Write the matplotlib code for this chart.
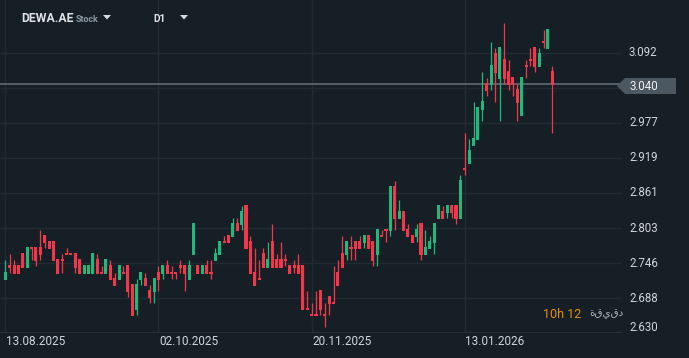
import matplotlib
matplotlib.use("Agg")
import matplotlib.pyplot as plt
from matplotlib.patches import Polygon

# daily candles, DEWA.AE
opens = [2.72, 2.74, 2.74, 2.74, 2.76, 2.74, 2.77, 2.77, 2.77, 2.79,
         2.78, 2.78, 2.75, 2.75, 2.76, 2.76, 2.76, 2.75, 2.73, 2.73,
         2.73, 2.75, 2.73, 2.73, 2.74, 2.72, 2.72, 2.73, 2.74, 2.71,
         2.67, 2.72, 2.72, 2.70, 2.70, 2.73, 2.73, 2.74, 2.73, 2.73,
         2.74, 2.74, 2.72, 2.76, 2.74, 2.73, 2.74, 2.73, 2.75, 2.76,
         2.78, 2.79, 2.79, 2.81, 2.81, 2.84, 2.78, 2.73, 2.72, 2.76,
         2.74, 2.78, 2.75, 2.75, 2.75, 2.74, 2.74, 2.74, 2.74, 2.67,
         2.66, 2.66, 2.70, 2.66, 2.69, 2.68, 2.73, 2.76, 2.76, 2.77,
         2.78, 2.78, 2.78, 2.79, 2.78, 2.76, 2.79, 2.80, 2.80, 2.87,
         2.82, 2.83, 2.80, 2.79, 2.79, 2.81, 2.76, 2.77, 2.78, 2.82,
         2.83, 2.83, 2.84, 2.84, 2.82, 2.90, 2.91, 2.94, 2.95, 3.00,
         3.04, 3.04, 3.09, 3.05, 3.08, 3.06, 3.05, 3.03, 2.99, 3.07,
         3.08, 3.10, 3.07, 3.11, 3.10, 3.06]
highs = [2.75, 2.76, 2.75, 2.74, 2.76, 2.77, 2.77, 2.77, 2.80, 2.79,
         2.78, 2.78, 2.75, 2.76, 2.77, 2.76, 2.76, 2.75, 2.74, 2.74,
         2.76, 2.76, 2.74, 2.75, 2.75, 2.73, 2.74, 2.74, 2.74, 2.71,
         2.72, 2.73, 2.73, 2.71, 2.72, 2.74, 2.74, 2.75, 2.74, 2.73,
         2.75, 2.74, 2.75, 2.81, 2.74, 2.74, 2.75, 2.75, 2.77, 2.78,
         2.79, 2.79, 2.82, 2.82, 2.84, 2.84, 2.79, 2.77, 2.75, 2.77,
         2.78, 2.81, 2.76, 2.78, 2.76, 2.74, 2.75, 2.76, 2.74, 2.70,
         2.68, 2.70, 2.70, 2.68, 2.69, 2.74, 2.75, 2.79, 2.78, 2.79,
         2.78, 2.79, 2.79, 2.79, 2.78, 2.80, 2.80, 2.80, 2.87, 2.88,
         2.85, 2.83, 2.81, 2.79, 2.81, 2.81, 2.80, 2.79, 2.81, 2.84,
         2.84, 2.84, 2.84, 2.84, 2.89, 2.96, 2.95, 3.01, 3.00, 3.06,
         3.05, 3.11, 3.10, 3.10, 3.14, 3.08, 3.05, 3.04, 3.05, 3.08,
         3.10, 3.10, 3.10, 3.13, 3.13, 3.07]
lows = [2.72, 2.73, 2.73, 2.73, 2.74, 2.74, 2.75, 2.74, 2.75, 2.77,
        2.77, 2.75, 2.73, 2.73, 2.76, 2.76, 2.73, 2.73, 2.73, 2.73,
        2.73, 2.73, 2.73, 2.73, 2.72, 2.71, 2.72, 2.73, 2.69, 2.66,
        2.66, 2.71, 2.71, 2.68, 2.68, 2.70, 2.72, 2.73, 2.72, 2.72,
        2.73, 2.70, 2.72, 2.76, 2.73, 2.73, 2.73, 2.72, 2.75, 2.76,
        2.78, 2.78, 2.79, 2.80, 2.80, 2.77, 2.73, 2.71, 2.72, 2.74,
        2.74, 2.74, 2.74, 2.74, 2.74, 2.73, 2.73, 2.73, 2.67, 2.67,
        2.66, 2.66, 2.66, 2.64, 2.66, 2.68, 2.71, 2.74, 2.75, 2.75,
        2.75, 2.77, 2.77, 2.77, 2.74, 2.74, 2.79, 2.78, 2.79, 2.80,
        2.82, 2.80, 2.79, 2.78, 2.78, 2.75, 2.76, 2.77, 2.76, 2.82,
        2.82, 2.82, 2.82, 2.81, 2.82, 2.89, 2.91, 2.94, 2.95, 2.98,
        3.02, 3.03, 3.01, 2.98, 3.04, 3.03, 3.02, 2.98, 2.99, 3.05,
        3.07, 3.06, 3.07, 3.10, 3.10, 2.96]
closes = [2.73, 2.74, 2.73, 2.73, 2.74, 2.77, 2.77, 2.75, 2.76, 2.78,
          2.77, 2.75, 2.73, 2.75, 2.76, 2.76, 2.74, 2.73, 2.74, 2.74,
          2.76, 2.73, 2.73, 2.75, 2.72, 2.71, 2.74, 2.73, 2.70, 2.66,
          2.71, 2.73, 2.71, 2.69, 2.72, 2.72, 2.74, 2.73, 2.73, 2.73,
          2.74, 2.73, 2.74, 2.81, 2.73, 2.74, 2.73, 2.73, 2.76, 2.78,
          2.78, 2.78, 2.81, 2.80, 2.83, 2.77, 2.73, 2.71, 2.72, 2.74,
          2.75, 2.74, 2.74, 2.74, 2.75, 2.73, 2.74, 2.73, 2.67, 2.67,
          2.66, 2.66, 2.67, 2.66, 2.68, 2.68, 2.71, 2.74, 2.78, 2.77,
          2.77, 2.77, 2.79, 2.77, 2.75, 2.80, 2.79, 2.80, 2.87, 2.82,
          2.83, 2.80, 2.79, 2.78, 2.80, 2.76, 2.77, 2.78, 2.81, 2.84,
          2.82, 2.84, 2.83, 2.82, 2.88, 2.90, 2.93, 2.95, 3.00, 3.01,
          3.03, 3.07, 3.06, 3.10, 3.05, 3.04, 3.04, 3.01, 3.05, 3.07,
          3.08, 3.07, 3.09, 3.11, 3.13, 3.04]

date_labels = ["13.08.2025", "02.10.2025", "20.11.2025", "13.01.2026"]
date_index = [0, 35, 70, 105]
price_ticks = [2.630, 2.68775, 2.7455, 2.80325, 2.861, 2.91875, 2.9765, 3.03425, 3.092]
price_labels = ["2.630", "2.688", "2.746", "2.803", "2.861", "2.919", "2.977", "", "3.092"]

W, H = 689, 358
BG = "#171f26"
GRID = "#222b33"
UP = "#22b87c"
DOWN = "#f2374b"
TXT = "#d1d4dc"

def fx(px):
    return px / W

def fy(py):
    return 1 - py / H

fig = plt.figure(figsize=(W / 100, H / 100), dpi=100, facecolor=BG)
ax = fig.add_axes([0, fy(333.3), fx(622), 333.3 / H], facecolor=BG)

# grid
for t in price_ticks:
    ax.axhline(t, color=GRID, lw=1.0, zorder=0)
for i in date_index:
    ax.axvline(i, color=GRID, lw=1.0, zorder=0)
ax.axhline(price_ticks[0], color="#27323b", lw=1.2, zorder=0)

# candles
for i in range(len(opens)):
    o, h, l, c = opens[i], highs[i], lows[i], closes[i]
    col = UP if c > o else DOWN
    ax.vlines(i, l, h, color=col, lw=0.9, zorder=2)
    lo = min(o, c) - 0.0017
    ax.bar(i, abs(c - o) + 0.0034, bottom=lo, width=0.7, color=col,
           edgecolor="none", zorder=3)

last = closes[-1]
ax.axhline(last, color="#5a6670", lw=1.3, zorder=1)

ax.set_xlim(-5.3 / 4.376, (622 - 5.3) / 4.376)
ax.set_ylim(2.630, 2.630 + 333.3 * 0.001646)
for s in ax.spines.values():
    s.set_visible(False)
ax.set_xticks([])
ax.set_yticks([])

# price scale labels
for t, lab in zip(price_ticks, price_labels):
    if not lab:
        continue
    off = 4.5 if lab == "2.630" else 0
    ax.annotate(lab, xy=(1, t), xycoords=("axes fraction", "data"),
                xytext=(5, off), textcoords="offset points", ha="left",
                va="center", color=TXT, fontsize=8.3, family="Roboto")

# date labels
for i, lab in zip(date_index, date_labels):
    ax.annotate(lab, xy=(i, 0), xycoords=("data", "axes fraction"),
                xytext=(0.3, -6.2), textcoords="offset points", ha="left",
                va="center", color=TXT, fontsize=8.5, family="Roboto")

# current price tag
tag = Polygon([(fx(617), fy(86)), (fx(625), fy(78)), (fx(676), fy(78)),
               (fx(676), fy(94)), (fx(625), fy(94))], closed=True,
              transform=fig.transFigure, facecolor="#4b5861", edgecolor="none")
fig.patches.append(tag)
fig.text(fx(629), fy(86), f"{last:.3f}", color="#eef0f2", fontsize=8.3,
         family="Roboto", ha="left", va="center")

# header
fig.text(fx(21), fy(19), "DEWA.AE", color="#dfe3e7", fontsize=8.8,
         family="Roboto", weight="bold", ha="left", va="center")
fig.text(fx(76), fy(19.5), "Stock", color="#8d9aa4", fontsize=6.4,
         family="Roboto", weight="bold", ha="left", va="center")
fig.text(fx(153), fy(19.5), "D1", color="#dfe3e7", fontsize=7.2,
         family="Roboto", weight="bold", ha="left", va="center")
for x0 in (103, 180):
    tri = Polygon([(fx(x0), fy(15)), (fx(x0 + 8), fy(15)), (fx(x0 + 4), fy(19.5))],
                  closed=True, transform=fig.transFigure,
                  facecolor="#d6dadf", edgecolor="none")
    fig.patches.append(tri)

# countdown
fig.text(fx(543), fy(314), "10h 12", color="#e8900c", fontsize=9,
         family="Roboto", ha="left", va="center")
fig.text(fx(589), fy(314), "ةقيقد", color="#a9b3ba", fontsize=7.5,
         family=["DejaVu Sans"], ha="left", va="center")

fig.savefig("out.png", dpi=100, facecolor=BG)
